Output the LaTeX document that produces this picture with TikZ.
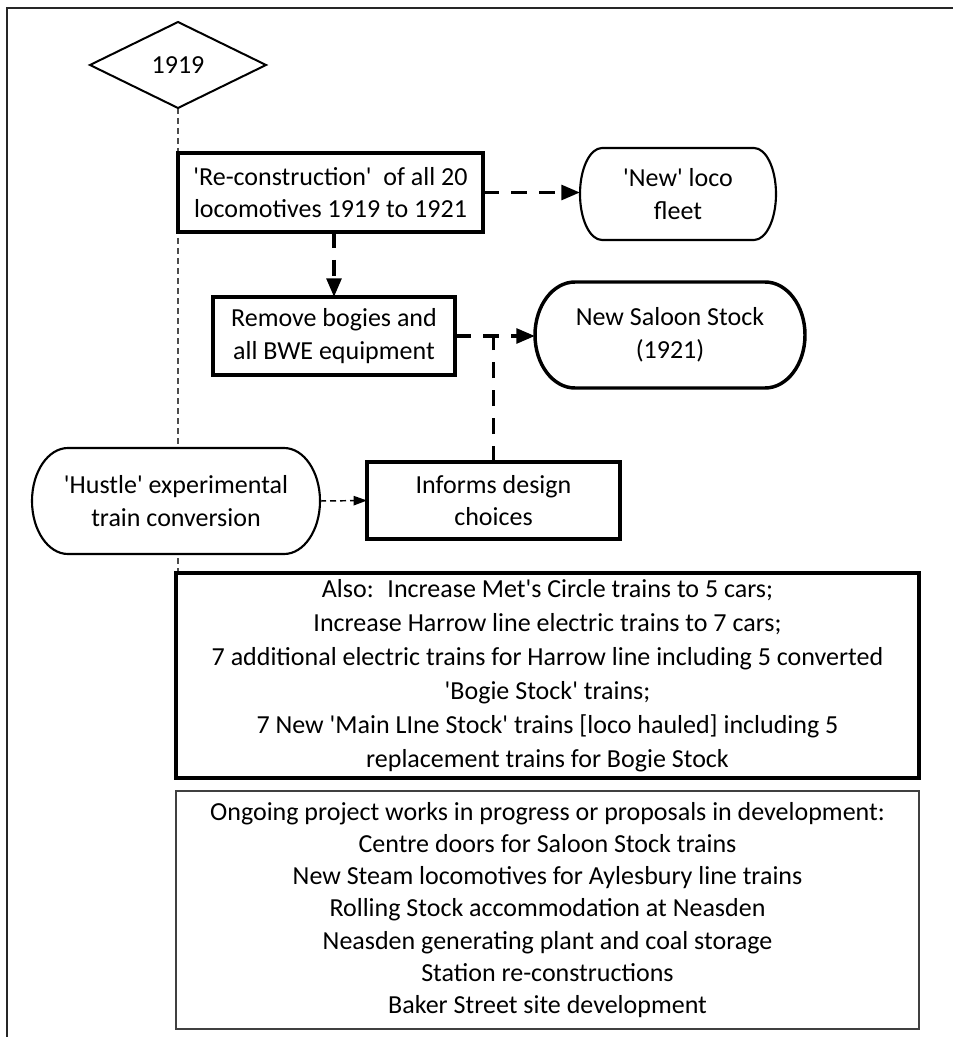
\documentclass[tikz,border=0pt]{standalone}
\usepackage{fontspec}
\setmainfont{Carlito}[Ligatures=TeXOff]
\usetikzlibrary{arrows.meta,shapes.geometric,backgrounds}

\newcommand{\chartfont}{\fontsize{19.5pt}{24.5pt}\selectfont}
% outline of a terminator node: node, x radius, y radius, line width
\newcommand{\termframe}[4]{%
  \begin{scope}[on background layer]
    \draw[line width=#4, fill=white] ([xshift=#2]#1.north west) -- ([xshift=-#2]#1.north east)
      arc[start angle=90, end angle=-90, x radius=#2, y radius=#3]
      -- ([xshift=#2]#1.south west)
      arc[start angle=270, end angle=90, x radius=#2, y radius=#3] -- cycle;
  \end{scope}}

\tikzset{
  stepbox/.style={draw, line width=2.6pt, fill=white, align=center, inner sep=0pt, outer sep=0pt},
  termnode/.style={align=center, inner sep=0pt, outer sep=0pt},
  bigarrow/.style={line width=2.8pt, dash pattern=on 12pt off 9pt, -{Triangle[length=14pt,width=11pt]}},
  smallarrow/.style={line width=1.1pt, dash pattern=on 4.5pt off 3pt, -{Triangle[length=10pt,width=7pt]}},
  timeline/.style={line width=0.8pt, dash pattern=on 4.5pt off 3pt, black!70},
}

\begin{document}
\begin{tikzpicture}[x=0.75pt, y=-0.75pt, font=\chartfont]
  \useasboundingbox (0,0) rectangle (953,1037);
  % outer frame
  \draw[line width=1.8pt, black!85] (7,1037) -- (7,8) -- (953,8);

  % year
  \node[diamond, draw, line width=1.5pt, fill=white, inner sep=0pt, outer sep=0pt,
        minimum width=132pt, minimum height=64.5pt] (year) at (178,65) {1919};

  % locomotives
  \node[stepbox, minimum width=228.75pt, minimum height=59.25pt] (rebuild) at (330.5,192.5)
       {'Re-construction'~ of all 20\\locomotives 1919 to 1921};
  \node[termnode, minimum width=147pt, minimum height=69pt] (newloco) at (678,194)
       {'New' loco\\fleet};
  \node[stepbox, minimum width=181.5pt, minimum height=58.5pt] (strip) at (334,336)
       {Remove bogies and\\all BWE equipment};
  \node[termnode, minimum width=202.5pt, minimum height=79.5pt] (saloon) at (670,335)
       {New Saloon Stock\\(1921)};

  % hustle train
  \node[termnode, minimum width=216pt, minimum height=79.5pt] (hustle) at (176,501)
       {'Hustle' experimental\\train conversion};
  \node[stepbox, minimum width=189.75pt, minimum height=57.75pt] (informs) at (493.5,500.5)
       {Informs design\\choices};

  % other works
  \node[stepbox, minimum width=557.25pt, minimum height=153.75pt, font=\fontsize{19.5pt}{25.5pt}\selectfont]
       (also) at (547.5,675.5)
       {Also:~ Increase Met's Circle trains to 5 cars;\\
        Increase Harrow line electric trains to 7 cars;\\
        7 additional electric trains for Harrow line including 5 converted\\
        'Bogie Stock' trains;\\
        7 New 'Main LIne Stock' trains [loco hauled] including 5\\
        replacement trains for Bogie Stock};
  \node[stepbox, line width=1.2pt, draw=black!75, minimum width=557.25pt, minimum height=178.5pt,
        font=\fontsize{19.5pt}{24.2pt}\selectfont]
       (ongoing) at (547.5,910)
       {Ongoing project works in progress or proposals in development:\\
        Centre doors for Saloon Stock trains\\
        New Steam locomotives for Aylesbury line trains\\
        Rolling Stock accommodation at Neasden\\
        Neasden generating plant and coal storage\\
        Station re-constructions\\
        Baker Street site development};

  % timeline behind the boxes
  \begin{scope}[on background layer]
    \draw[timeline] (year.south) -- (year.south |- also.north);
  \end{scope}
  \termframe{newloco}{16.5pt}{34.5pt}{1.6pt}
  \termframe{saloon}{30pt}{39.75pt}{2.6pt}
  \termframe{hustle}{27pt}{39.75pt}{1.6pt}

  % connectors
  \coordinate (join) at (informs.north |- saloon.west);
  \draw[bigarrow] (rebuild.east) -- (rebuild.east -| newloco.west);
  \draw[bigarrow] (rebuild.south -| strip.north) -- (strip.north);
  \draw[bigarrow] (strip.east) -- (strip.east -| saloon.west);
  \draw[bigarrow, -] (informs.north) -- (join);
  \draw[smallarrow] (hustle.east) -- (informs.west);
\end{tikzpicture}
\end{document}
